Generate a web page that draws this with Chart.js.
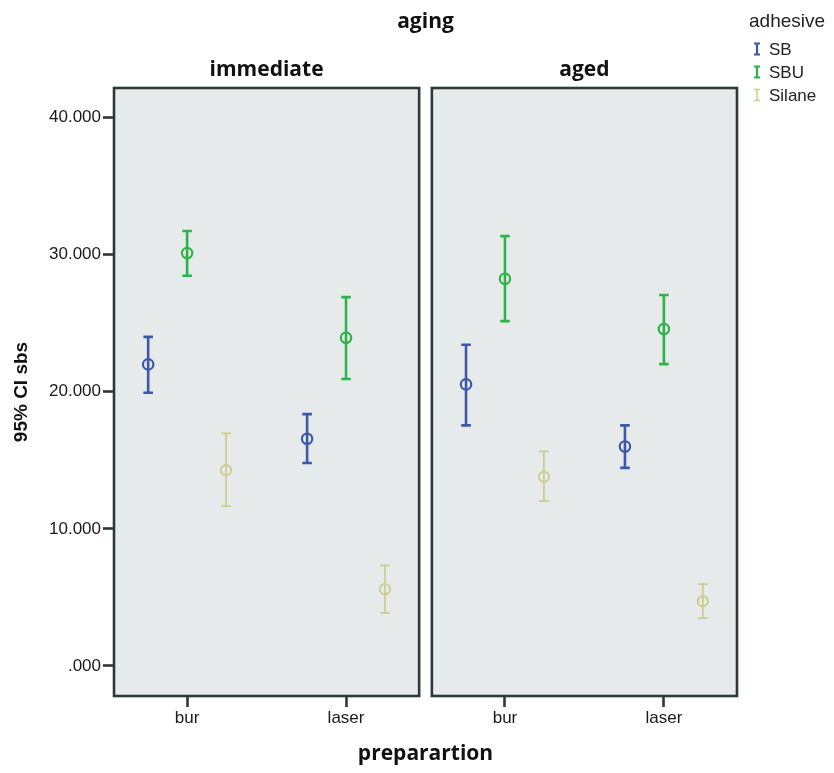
<!DOCTYPE html>
<html>
<head>
<meta charset="utf-8">
<script src="https://cdn.jsdelivr.net/npm/chart.js@4.4.1/dist/chart.umd.min.js"></script>
<style>
  html, body { margin: 0; padding: 0; background: #fff; }
  #wrap { width: 834px; height: 773px; }
</style>
</head>
<body>
<div id="wrap"><canvas id="ciChart" width="834" height="773"></canvas></div>
<script>
// --- data (order: immediate-bur, immediate-laser, aged-bur, aged-laser) ---
const panels = ["immediate", "aged"];
const categories = ["bur", "laser"];
const series = ["SB", "SBU", "Silane"];

const sbMean   = [22.00, 16.57, 20.54, 16.01];
const sbLow    = [19.93, 14.80, 17.55, 14.45];
const sbHigh   = [24.01, 18.37, 23.43, 17.55];

const sbuMean  = [30.12, 23.94, 28.25, 24.58];
const sbuLow   = [28.47, 20.93, 25.16, 22.02];
const sbuHigh  = [31.73, 26.91, 31.36, 27.06];

const silMean  = [14.28, 5.60, 13.80, 4.72];
const silLow   = [11.66, 3.87, 12.04, 3.48];
const silHigh  = [16.96, 7.33, 15.65, 5.96];

const yTickValues = [0, 10, 20, 30, 40];
const yTickLabels = [".000", "10.000", "20.000", "30.000", "40.000"];

// layout helpers (not data)
const panelSpan = 2;          // x units from one panel's "bur" to the next
const panelPad = 0.46;        // x units between outer category and panel edge
const dodge = [-0.245, 0, 0.245];
const colors = ["#3c58a9", "#2db34a", "#cdca8e"];
const barWidths = [2.6, 2.6, 1.7];
const panelFill = "#e7eaeb";
const panelEdge = "#2f3838";

const means = [sbMean, sbuMean, silMean];
const lows = [sbLow, sbuLow, silLow];
const highs = [sbHigh, sbuHigh, silHigh];

const xTickValues = [];
const xTickLabels = [];
panels.forEach((p, pi) => categories.forEach((c, ci) => {
    xTickValues.push(pi * panelSpan + ci);
    xTickLabels.push(c);
}));

const datasets = series.map((name, s) => ({
    label: name,
    data: means[s].map((m, k) => ({
        x: Math.floor(k / categories.length) * panelSpan + (k % categories.length) + dodge[s],
        y: m,
        lo: lows[s][k],
        hi: highs[s][k],
    })),
    pointStyle: "circle",
    pointRadius: 5.2,
    pointBorderWidth: s === 2 ? 1.8 : 2.2,
    borderColor: colors[s],
    backgroundColor: "rgba(0,0,0,0)",
    showLine: false,
}));

// panels, headers and error bars
const facetPlugin = {
    id: "facets",
    beforeDatasetsDraw(chart) {
        const { ctx, chartArea, scales: { x, y } } = chart;
        ctx.save();
        panels.forEach((name, p) => {
            const l = x.getPixelForValue(p * panelSpan - panelPad);
            const r = x.getPixelForValue(p * panelSpan + categories.length - 1 + panelPad);
            ctx.fillStyle = panelFill;
            ctx.fillRect(l, chartArea.top, r - l, chartArea.bottom - chartArea.top);
            ctx.lineWidth = 2.6;
            ctx.strokeStyle = panelEdge;
            ctx.strokeRect(l, chartArea.top, r - l, chartArea.bottom - chartArea.top);

            ctx.fillStyle = "#111";
            ctx.font = "bold 21px 'Open Sans'";
            ctx.textAlign = "center";
            ctx.textBaseline = "alphabetic";
            ctx.fillText(name, (l + r) / 2, 76);
        });
        ctx.font = "bold 21px 'Open Sans'";
        ctx.fillText("aging", (chartArea.left + chartArea.right) / 2, 28);

        // error bars
        chart.data.datasets.forEach((ds, s) => {
            ctx.strokeStyle = colors[s];
            ctx.lineWidth = barWidths[s];
            ds.data.forEach(pt => {
                const px = x.getPixelForValue(pt.x);
                const top = y.getPixelForValue(pt.hi);
                const bot = y.getPixelForValue(pt.lo);
                ctx.beginPath();
                ctx.moveTo(px, top); ctx.lineTo(px, bot);
                ctx.moveTo(px - 4.8, top); ctx.lineTo(px + 4.8, top);
                ctx.moveTo(px - 4.8, bot); ctx.lineTo(px + 4.8, bot);
                ctx.stroke();
            });
        });
        ctx.restore();
    },
    afterDraw(chart) {
        const { ctx } = chart;
        ctx.save();
        ctx.fillStyle = "#222";
        ctx.textAlign = "left";
        ctx.textBaseline = "alphabetic";
        ctx.font = "19px 'Liberation Sans'";
        ctx.fillText("adhesive", 749, 27);
        ctx.font = "17px 'Liberation Sans'";
        ctx.textBaseline = "middle";
        series.forEach((name, s) => {
            const cy = 49 + s * 23;
            ctx.strokeStyle = colors[s];
            ctx.lineWidth = s === 2 ? 1.5 : 2.2;
            ctx.beginPath();
            ctx.moveTo(757, cy - 5.5); ctx.lineTo(757, cy + 5.5);
            ctx.moveTo(754, cy - 5.5); ctx.lineTo(760, cy - 5.5);
            ctx.moveTo(754, cy + 5.5); ctx.lineTo(760, cy + 5.5);
            ctx.stroke();
            ctx.fillStyle = "#222";
            ctx.fillText(name, 769, cy + 1);
        });
        ctx.restore();
    },
};

Chart.defaults.font.family = "'Liberation Sans', Arial, sans-serif";
Chart.defaults.color = "#1a1a1a";

new Chart(document.getElementById("ciChart"), {
    type: "scatter",
    data: { datasets },
    plugins: [facetPlugin],
    options: {
        responsive: false,
        animation: false,
        events: [],
        layout: { padding: { top: 88, right: 97, left: 0, bottom: 0 } },
        plugins: { legend: { display: false }, tooltip: { enabled: false } },
        scales: {
            x: {
                type: "linear",
                min: -panelPad,
                max: (panels.length - 1) * panelSpan + categories.length - 1 + panelPad,
                afterBuildTicks: (s) => { s.ticks = xTickValues.map(v => ({ value: v })); },
                afterFit: (s) => { s.height = 77; },
                ticks: {
                    callback: (v, i) => xTickLabels[i],
                    font: { size: 17 },
                    color: "#1a1a1a",
                    padding: 1,
                    maxRotation: 0,
                    autoSkip: false,
                },
                grid: { drawOnChartArea: false, tickLength: 11, tickWidth: 2.6, tickColor: "#2f3838" },
                border: { display: false },
                title: {
                    display: true,
                    text: "preparartion",
                    font: { family: "'Open Sans'", weight: "bold", size: 21 },
                    color: "#111",
                    padding: { top: 0, bottom: 6 },
                },
            },
            y: {
                min: -2.2,
                max: 42.17,
                afterBuildTicks: (s) => { s.ticks = yTickValues.map(v => ({ value: v })); },
                afterFit: (s) => { s.width = 114; },
                ticks: {
                    callback: (v, i) => yTickLabels[i],
                    font: { size: 17 },
                    color: "#1a1a1a",
                    padding: 2,
                },
                grid: { drawOnChartArea: false, tickLength: 11, tickWidth: 2.6, tickColor: "#2f3838" },
                border: { display: false },
                title: {
                    display: true,
                    text: "95% CI sbs",
                    font: { weight: "bold", size: 19 },
                    color: "#111",
                    padding: { top: 10, bottom: 0 },
                },
            },
        },
    },
});
</script>
</body>
</html>
